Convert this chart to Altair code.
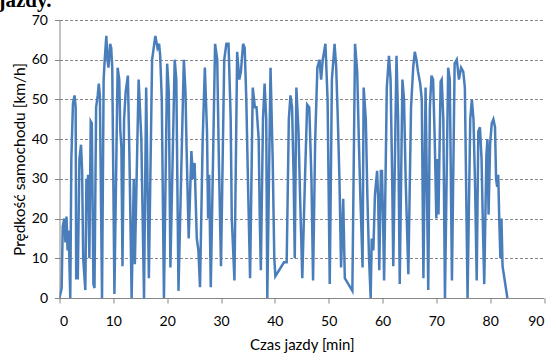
import altair as alt
import pandas as pd

# Time of drive [min]
minutes = [0, 0.4, 0.6, 0.9, 1.1, 1.3, 1.5, 1.7, 2.0, 2.2, 2.5, 2.8, 3.0, 3.1, 3.4, 3.7, 4.0, 4.2, 4.4, 4.8,
           5.0, 5.1, 5.3, 5.55, 5.8, 6.0, 6.3, 6.5, 6.8, 7.1, 7.3, 7.5, 7.9, 8.2, 8.4, 8.7, 8.9, 9.1, 9.4, 9.6,
           9.8, 10.2, 10.8, 11.1, 11.3, 11.5, 11.7, 12.0, 12.3, 12.7, 13.0, 13.4, 13.8, 14.0, 14.7, 15.2, 15.7,
           16.1, 16.6, 17.2, 17.5, 17.8, 18.2, 18.5, 18.7, 19.0, 19.4, 20.0, 20.3, 20.6, 21.4, 21.7, 22.1, 23.1,
           23.4, 23.6, 24.0, 24.5, 24.8, 25.1, 25.5, 25.8, 26.1, 26.6, 27.0, 27.4, 27.6, 27.8, 28.1, 28.9, 29.3,
           29.6, 30.0, 30.6, 31.0, 31.4, 31.8, 32.0, 32.5, 33.0, 33.4, 33.7, 34.1, 34.4, 34.7, 35.0, 35.4, 35.9,
           36.3, 36.6, 37.0, 37.2, 37.4, 37.8, 38.1, 38.4, 38.6, 39.2, 39.6, 39.9, 40.1, 41.7, 42.2, 42.6, 42.9,
           43.2, 43.5, 43.7, 44.0, 44.4, 44.7, 45.1, 45.6, 46.0, 46.4, 46.8, 47.1, 47.5, 47.9, 48.3, 48.6, 48.9,
           49.4, 49.8, 50.2, 50.6, 51.1, 51.4, 51.7, 52.0, 52.3, 52.7, 53.0, 54.4, 54.9, 55.3, 55.6, 55.9, 56.3,
           56.5, 56.9, 57.2, 57.5, 57.8, 58.0, 58.3, 58.6, 59.0, 59.2, 59.4, 59.7, 59.9, 60.1, 60.3, 60.8, 61.2,
           61.5, 61.8, 62.0, 62.6, 62.9, 63.2, 63.7, 64.0, 64.3, 64.8, 65.3, 65.7, 66.0, 66.3, 66.6, 67.0, 67.3,
           67.6, 68.0, 68.5, 68.8, 69.1, 69.4, 69.7, 70.0, 70.2, 70.4, 70.8, 71.0, 71.3, 71.6, 72.2, 72.5, 72.9,
           73.4, 73.8, 74.2, 74.6, 75.0, 75.3, 75.8, 76.3, 76.6, 76.9, 77.2, 77.5, 77.8, 78.1, 78.4, 78.7, 78.9,
           79.3, 79.5, 79.7, 80.0, 80.3, 80.6, 80.9, 81.1, 81.3, 81.5, 81.7, 81.9, 82.1, 82.3, 83.2]

# Vehicle speed [km/h]
speed = [0, 2.5, 18, 20, 14, 20.5, 12, 17, 0, 35, 49, 51, 48, 5, 5, 35, 38.6, 32, 10, 2,
         30, 22, 31, 10, 44.5, 44, 3.5, 2.5, 48, 51, 54, 51, 0, 55, 60, 66, 60, 58, 64, 63,
         58, 1, 58, 55, 42, 38, 8, 45, 52, 56, 35, 0, 30, 8.5, 55, 40, 0,
         53, 5, 60, 63, 66, 63, 64, 61, 50, 0, 59, 52, 7.7, 60, 55, 1.8, 60,
         52, 38, 15, 37, 30, 34, 15, 12, 2.7, 40, 58, 42, 20, 31, 2.7, 64, 60,
         35, 8, 60, 64, 64, 45, 20, 4.4, 62, 55, 57, 64, 63, 50, 30, 5, 53,
         48, 48, 40, 20, 7, 45, 54, 45, 0, 58, 35, 10, 5.5, 9, 9, 45, 51,
         48, 30, 10, 53, 42, 25, 5, 30, 48.7, 48, 30, 4.4, 40, 58, 60, 55, 60,
         64, 50, 3.5, 55, 64, 58, 45, 30, 7.7, 25, 5, 1.8, 64, 57, 40, 25, 7.7,
         53, 45, 25, 10, 0, 15, 12, 26, 32, 25, 7, 32, 32, 20, 4.4, 53, 61,
         55, 30, 8, 61, 45, 3.5, 55, 50, 30, 6, 48, 58, 62, 60, 57, 54, 50,
         5, 53, 2, 48, 56, 55, 40, 20, 35, 21, 54.5, 55, 45, 0, 58, 55, 4.4,
         59, 60, 55, 58, 57, 53, 0, 45, 50, 45, 28, 4.4, 42, 43, 35, 15, 3.5,
         36, 40, 21, 39, 44, 45, 43, 30, 28, 31, 19, 10, 20, 8, 0]

x_ticks = [0, 10, 20, 30, 40, 50, 60, 70, 80, 90]
y_ticks = [0, 10, 20, 30, 40, 50, 60, 70]
caption_fragment = ["jazdy."]

df = pd.DataFrame({"t": minutes, "v": speed})

AX = "#868686"
FONT = "Lato"

line = alt.Chart(df).mark_line(color="#4A7EBB", strokeWidth=2.5, clip=True).encode(
    x=alt.X("t:Q", scale=alt.Scale(domain=[0, 90], nice=False),
            axis=alt.Axis(values=x_ticks, title="Czas jazdy [min]", grid=False,
                          domainColor=AX, tickColor=AX, tickSize=5,
                          labelFont=FONT, labelFontSize=14, labelColor="black", labelPadding=11,
                          titleFont=FONT, titleFontSize=15, titleFontWeight="normal",
                          titleColor="black", titlePadding=9)),
    y=alt.Y("v:Q", scale=alt.Scale(domain=[0, 70], nice=False),
            axis=alt.Axis(values=y_ticks, title="Prędkość samochodu [km/h]", grid=True,
                          gridColor=AX, gridDash=[3, 2], gridWidth=1,
                          domainColor=AX, tickColor=AX, tickSize=5,
                          labelFont=FONT, labelFontSize=14, labelColor="black", labelPadding=7,
                          titleFont=FONT, titleFontSize=15.5, titleFontWeight="normal",
                          titleColor="black", titlePadding=4)),
    order="t:Q",
)

caption = alt.Chart(pd.DataFrame({"c": caption_fragment})).mark_text(
    align="left", baseline="alphabetic", font="Liberation Serif", fontSize=21,
    fontWeight="bold", color="black"
).encode(text="c:N", x=alt.value(-61), y=alt.value(-13))

chart = alt.layer(line, caption).properties(
    width=484.5, height=278,
    autosize=alt.AutoSizeParams(type="none"),
    padding={"left": 59.5, "top": 20, "right": 12, "bottom": 64},
).configure_view(strokeWidth=0)

chart.save("out.html", embed_options={"renderer": "svg", "actions": False})
